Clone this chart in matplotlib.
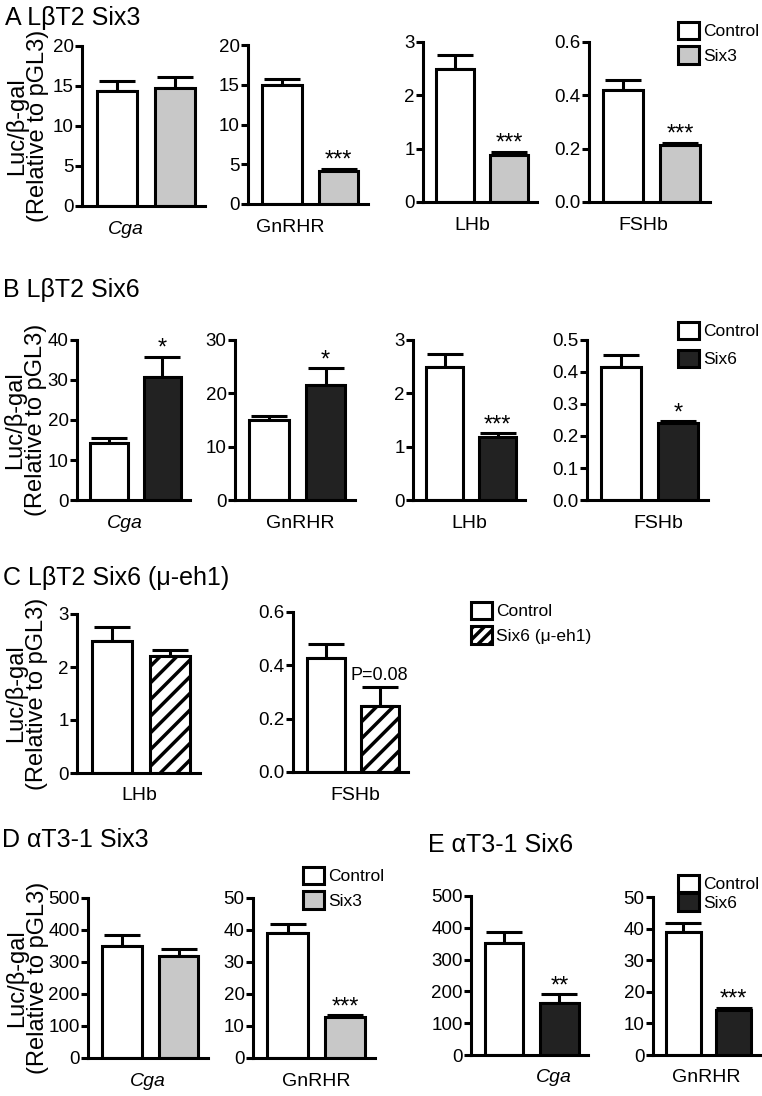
import numpy as np
import matplotlib
matplotlib.use('Agg')
import matplotlib.pyplot as plt
from matplotlib.patches import Patch
from matplotlib.ticker import FormatStrFormatter, MultipleLocator

plt.rcParams['font.family'] = ['Liberation Sans', 'DejaVu Sans']
plt.rcParams['hatch.linewidth'] = 2.5

W, H = 762, 1096
LW = 2.2
GREY = '#c8c8c8'
DARK = '#222222'
YLAB = 'Luc/β-gal\n(Relative to pGL3)'

# ---- data ----
genes_A = ['Cga', 'GnRHR', 'LHb', 'FSHb']
ctrl_A = [14.4, 15.0, 2.50, 0.42]
ctrl_A_err = [1.2, 0.7, 0.25, 0.038]
six3_A = [14.8, 4.1, 0.88, 0.215]
six3_A_err = [1.3, 0.35, 0.06, 0.006]
sig_A = ['', '***', '***', '***']
ytop_A = [20, 20, 3, 0.6]
ystep_A = [5, 5, 1, 0.2]

genes_B = ['Cga', 'GnRHR', 'LHb', 'FSHb']
ctrl_B = [14.3, 15.0, 2.49, 0.415]
ctrl_B_err = [1.1, 0.7, 0.24, 0.037]
six6_B = [30.8, 21.5, 1.19, 0.24]
six6_B_err = [4.9, 3.2, 0.06, 0.006]
sig_B = ['*', '*', '***', '*']
ytop_B = [40, 30, 3, 0.5]
ystep_B = [10, 10, 1, 0.1]

genes_C = ['LHb', 'FSHb']
ctrl_C = [2.50, 0.428]
ctrl_C_err = [0.25, 0.053]
mut_C = [2.20, 0.246]
mut_C_err = [0.13, 0.073]
sig_C = ['', 'P=0.08']
ytop_C = [3, 0.6]
ystep_C = [1, 0.2]

genes_D = ['Cga', 'GnRHR']
ctrl_D = [351, 39.1]
ctrl_D_err = [32, 2.8]
six3_D = [318, 12.7]
six3_D_err = [22, 0.6]
sig_D = ['', '***']

genes_E = ['Cga', 'GnRHR']
ctrl_E = [351, 38.9]
ctrl_E_err = [35, 3.0]
six6_E = [165, 14.2]
six6_E_err = [26, 0.7]
sig_E = ['**', '***']
ytop_DE = [500, 50]
ystep_DE = [100, 10]

fig = plt.figure(figsize=(W / 100, H / 100), dpi=100)


def px_axes(l, r, t, b):
    return fig.add_axes([l / W, 1 - b / H, (r - l) / W, (b - t) / H])


def panel(box, gene, vals, errs, fills, hatches, sig, ytop, ystep, xlab_x,
          ylab=False, ylab_px=26):
    l, r, t, b = box
    ax = px_axes(l, r, t, b)
    x = np.arange(2)
    for i in range(2):
        ax.bar(x[i], vals[i], width=0.7, color=fills[i], edgecolor='black',
               linewidth=LW, hatch=hatches[i], zorder=2)
    ax.errorbar(x, vals, yerr=[np.zeros(2), errs], fmt='none', ecolor='black',
                elinewidth=LW, capsize=13, capthick=LW, zorder=1)
    if sig:
        p = sig.startswith('P')
        ax.annotate(sig, (x[1], vals[1] + errs[1]), xytext=(0, 2 if p else -2),
                    textcoords='offset points', ha='center', va='bottom',
                    fontsize=13 if p else 17, annotation_clip=False)
    ax.set_xlim(-0.6, 1.52)
    ax.set_ylim(0, ytop)
    ax.yaxis.set_major_locator(MultipleLocator(ystep))
    ax.yaxis.set_major_formatter(FormatStrFormatter('%.1f' if ystep < 1 else '%d'))
    for s in ['top', 'right']:
        ax.spines[s].set_visible(False)
    for s in ['left', 'bottom']:
        ax.spines[s].set_linewidth(LW)
    ax.tick_params(axis='y', length=5, width=LW, pad=1, labelsize=13.5)
    ax.tick_params(axis='x', length=0, labelbottom=False)
    ax.set_xlabel(gene, fontsize=14, style='italic' if gene == 'Cga' else 'normal')
    ax.xaxis.label.set_va('center')
    ax.xaxis.set_label_coords(xlab_x, -23 / (b - t))
    if ylab:
        ax.set_ylabel(YLAB, fontsize=17, linespacing=0.95)
        ax.yaxis.label.set_va('center')
        ax.yaxis.set_label_coords((ylab_px - l) / (r - l), 0.5)
    return ax


def legend(ax, labels, fills, hatches, x, y, spacing):
    handles = [Patch(facecolor=f, edgecolor='black', linewidth=LW, hatch=h)
               for f, h in zip(fills, hatches)]
    ax.legend(handles, labels, loc='upper left', bbox_to_anchor=(x / W, 1 - y / H),
              bbox_transform=fig.transFigure, frameon=False, fontsize=12.5,
              handlelength=1.2, handleheight=1.15, handletextpad=0.25,
              labelspacing=spacing, borderpad=0, borderaxespad=0)


# ---- A ----
boxes_A = [(82, 205, 46, 206), (248, 368, 45, 204), (423, 537, 42, 202), (589, 710, 42, 202)]
xlab_A = [0.36, 0.35, 0.43, 0.45]
for i in range(4):
    ax = panel(boxes_A[i], genes_A[i], [ctrl_A[i], six3_A[i]], [ctrl_A_err[i], six3_A_err[i]],
               ['white', GREY], [None, None], sig_A[i], ytop_A[i], ystep_A[i], xlab_A[i],
               ylab=(i == 0), ylab_px=27)
legend(ax, ['Control', 'Six3'], ['white', GREY], [None, None], 678, 22, 0.4)
fig.text(5 / W, 1 - 18 / H, 'A LβT2 Six3', fontsize=18, va='center')

# ---- B ----
boxes_B = [(77, 190, 340, 500), (235, 355, 340, 500), (413, 525, 340, 500), (587, 708, 340, 500)]
xlab_B = [0.42, 0.54, 0.5, 0.59]
for i in range(4):
    ax = panel(boxes_B[i], genes_B[i], [ctrl_B[i], six6_B[i]], [ctrl_B_err[i], six6_B_err[i]],
               ['white', DARK], [None, None], sig_B[i], ytop_B[i], ystep_B[i], xlab_B[i],
               ylab=(i == 0), ylab_px=25)
legend(ax, ['Control', 'Six6'], ['white', DARK], [None, None], 678, 322, 0.6)
fig.text(3 / W, 1 - 290 / H, 'B LβT2 Six6', fontsize=18, va='center')

# ---- C ----
boxes_C = [(77, 200, 614, 773), (293, 408, 612, 772)]
xlab_C = [0.51, 0.54]
for i in range(2):
    ax = panel(boxes_C[i], genes_C[i], [ctrl_C[i], mut_C[i]], [ctrl_C_err[i], mut_C_err[i]],
               ['white', 'white'], [None, '//'], sig_C[i], ytop_C[i], ystep_C[i], xlab_C[i],
               ylab=(i == 0), ylab_px=26)
legend(ax, ['Control', 'Six6 (μ-eh1)'], ['white', 'white'], [None, '///'], 471, 602, 0.4)
fig.text(3 / W, 1 - 578 / H, 'C LβT2 Six6 (μ-eh1)', fontsize=18, va='center')

# ---- D ----
boxes_D = [(88, 208, 898, 1058), (253, 375, 898, 1058)]
xlab_D = [0.5, 0.52]
for i in range(2):
    ax = panel(boxes_D[i], genes_D[i], [ctrl_D[i], six3_D[i]], [ctrl_D_err[i], six3_D_err[i]],
               ['white', GREY], [None, None], sig_D[i], ytop_DE[i], ystep_DE[i], xlab_D[i],
               ylab=(i == 0), ylab_px=27)
legend(ax, ['Control', 'Six3'], ['white', GREY], [None, None], 303, 867, 0.4)
fig.text(2 / W, 1 - 840 / H, 'D αT3-1 Six3', fontsize=18, va='center')

# ---- E ----
boxes_E = [(471, 588, 896, 1055), (653, 760, 897, 1055)]
xlab_E = [0.71, 0.5]
for i in range(2):
    ax = panel(boxes_E[i], genes_E[i], [ctrl_E[i], six6_E[i]], [ctrl_E_err[i], six6_E_err[i]],
               ['white', DARK], [None, None], sig_E[i], ytop_DE[i], ystep_DE[i], xlab_E[i])
legend(ax, ['Control', 'Six6'], ['white', DARK], [None, None], 678, 875, 0.05)
fig.text(428 / W, 1 - 845 / H, 'E αT3-1 Six6', fontsize=18, va='center')

fig.savefig('out.png', dpi=100)
